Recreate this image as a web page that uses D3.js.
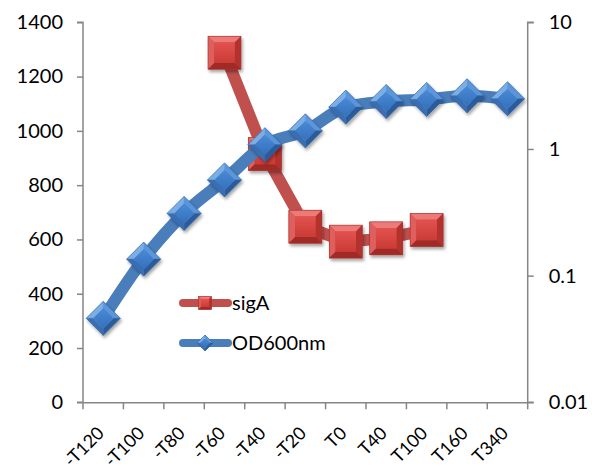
<!DOCTYPE html>
<html>
<head>
<meta charset="utf-8">
<script src="https://cdn.jsdelivr.net/npm/d3@7"></script>
<style>
  html, body { margin: 0; padding: 0; background: #fff; }
  svg { display: block; }
  text { font-family: Lato, "Open Sans", sans-serif; fill: #000; }
</style>
</head>
<body>
<svg id="chart" width="592" height="470"></svg>
<script>
// Sampling points along the time course
const categories = ["-T120", "-T100", "-T80", "-T60", "-T40", "-T20", "T0", "T40", "T100", "T160", "T340"];
// sigA expression (left axis); null where not measured
const sigA = [null, null, null, 1288, 915, 647, 592, 604, 635, null, null];
// Optical density at 600 nm (right axis, log scale)
const od600 = [0.046, 0.135, 0.31, 0.57, 1.08, 1.39, 2.14, 2.37, 2.46, 2.63, 2.49];
// Axis tick labels
const leftTicks = [0, 200, 400, 600, 800, 1000, 1200, 1400];
const rightTicks = [0.01, 0.1, 1, 10];

const svg = d3.select("#chart");
const plot = { left: 83, right: 527.7, top: 22.3, bottom: 402.3 };

const x = d3.scaleBand().domain(categories).range([plot.left, plot.right]);
const yL = d3.scaleLinear().domain([0, 1400]).range([plot.bottom, plot.top]);
const yR = d3.scaleLog().domain([0.01, 10]).range([plot.bottom, plot.top]);
const cx = c => x(c) + x.bandwidth() / 2;

// Soft shadow under the markers
const defs = svg.append("defs");
const f = defs.append("filter").attr("id", "shadow")
  .attr("x", "-50%").attr("y", "-50%").attr("width", "200%").attr("height", "200%");
f.append("feDropShadow").attr("dx", 1.5).attr("dy", 2.5).attr("stdDeviation", 1.6)
  .attr("flood-color", "#000").attr("flood-opacity", 0.35);

function grad(id, top, bottom) {
  const g = defs.append("linearGradient").attr("id", id)
    .attr("x1", 0).attr("y1", 0).attr("x2", 0).attr("y2", 1);
  g.append("stop").attr("offset", "0%").attr("stop-color", top);
  g.append("stop").attr("offset", "100%").attr("stop-color", bottom);
}
grad("redFace", "#E2524E", "#CB3B37");
grad("blueFace", "#4A8AD6", "#3470BC");

// Axes
const axisColor = "#868686";
const axisL = d3.axisLeft(yL).tickValues(leftTicks).tickSize(6).tickPadding(14).tickFormat(d3.format("d"));
const axisR = d3.axisRight(yR).tickValues(rightTicks).tickSize(6).tickPadding(15).tickFormat(d => String(d));
const axisB = d3.axisBottom(x).tickSize(0).tickFormat("");

function styleAxis(g) {
  g.selectAll(".domain").attr("stroke", axisColor).attr("stroke-width", 1.5);
  g.selectAll(".tick line").attr("stroke", axisColor).attr("stroke-width", 1.5);
  g.selectAll(".tick text").attr("font-size", 20).attr("font-family", "Lato, 'Open Sans', sans-serif").attr("fill", "#000");
}

const gL = svg.append("g").attr("transform", `translate(${plot.left},0)`).call(axisL).call(styleAxis);
gL.select(".domain").attr("d", `M-6,${plot.top}H0V${plot.bottom}H-6`);
const gR = svg.append("g").attr("transform", `translate(${plot.right},0)`).call(axisR).call(styleAxis);
gR.select(".domain").attr("d", `M6,${plot.top}H0V${plot.bottom}H6`);

const gB = svg.append("g").attr("transform", `translate(0,${plot.bottom})`).call(axisB).call(styleAxis);
gB.selectAll(".tick").remove();
// Category boundary ticks
const bounds = categories.map(c => x(c)).concat([plot.right]);
gB.selectAll("line.btick").data(bounds).enter().append("line").attr("class", "btick")
  .attr("x1", d => d).attr("x2", d => d).attr("y1", 0).attr("y2", 7)
  .attr("stroke", axisColor).attr("stroke-width", 1.5);
// Rotated category labels
svg.append("g").selectAll("text").data(categories).enter().append("text")
  .attr("transform", d => `translate(${cx(d) + 2},${plot.bottom + 32}) rotate(-45)`)
  .attr("text-anchor", "end").attr("font-size", 18).text(d => d);

// Bevelled square marker
function square(g, s, faces) {
  const i = s * 0.62;
  const pts = {
    top: [[-s, -s], [s, -s], [i, -i], [-i, -i]],
    left: [[-s, -s], [-i, -i], [-i, i], [-s, s]],
    right: [[s, -s], [s, s], [i, i], [i, -i]],
    bottom: [[-s, s], [-i, i], [i, i], [s, s]]
  };
  g.append("rect").attr("x", -s).attr("y", -s).attr("width", 2 * s).attr("height", 2 * s).attr("fill", faces.base);
  for (const k of ["top", "left", "right", "bottom"]) {
    g.append("polygon").attr("points", pts[k].map(p => p.join(",")).join(" ")).attr("fill", faces[k]);
  }
  g.append("rect").attr("x", -i).attr("y", -i).attr("width", 2 * i).attr("height", 2 * i).attr("fill", faces.face);
  g.append("rect").attr("x", -s).attr("y", -s).attr("width", 2 * s).attr("height", 2 * s)
    .attr("fill", "none").attr("stroke", faces.edge).attr("stroke-width", 0.6);
}
// Bevelled diamond marker
function diamond(g, r, faces) {
  const i = r * 0.6;
  const pts = {
    ul: [[-r, 0], [0, -r], [0, -i], [-i, 0]],
    ur: [[0, -r], [r, 0], [i, 0], [0, -i]],
    lr: [[r, 0], [0, r], [0, i], [i, 0]],
    ll: [[0, r], [-r, 0], [-i, 0], [0, i]]
  };
  for (const k of ["ul", "ur", "lr", "ll"]) {
    g.append("polygon").attr("points", pts[k].map(p => p.join(",")).join(" ")).attr("fill", faces[k])
      .attr("stroke", faces[k]).attr("stroke-width", 0.4);
  }
  g.append("polygon").attr("points", [[-i, 0], [0, -i], [i, 0], [0, i]].map(p => p.join(",")).join(" ")).attr("fill", faces.face);
  g.append("polygon").attr("points", [[-r, 0], [0, -r], [r, 0], [0, r]].map(p => p.join(",")).join(" "))
    .attr("fill", "none").attr("stroke", faces.edge).attr("stroke-width", 0.6);
}
const redFaces = { base: "#C9403C", top: "#EC7A76", left: "#DE5F5B", right: "#B3322F", bottom: "#9F2B28", face: "url(#redFace)", edge: "#A52F2C" };
const blueFaces = { ul: "#7BAEE6", ur: "#5B96DA", lr: "#2B5C9C", ll: "#3A6EB0", face: "url(#blueFace)", edge: "#2E62A6" };

// sigA series on the left axis
const redColor = "#C0504D";
const redPts = categories.map((c, k) => ({ c, v: sigA[k] })).filter(d => d.v !== null);
svg.append("path").datum(redPts)
  .attr("d", d3.line().x(d => cx(d.c)).y(d => yL(d.v)))
  .attr("fill", "none").attr("stroke", redColor).attr("stroke-width", 12)
  .attr("stroke-linejoin", "round").attr("stroke-linecap", "round");
svg.append("g").selectAll("g").data(redPts).enter().append("g")
  .attr("transform", d => `translate(${cx(d.c)},${yL(d.v)})`).attr("filter", "url(#shadow)")
  .each(function () { square(d3.select(this), 16.5, redFaces); });

// OD600nm series on the right (log) axis
const blueColor = "#4A7EBB";
const bluePts = categories.map((c, k) => ({ c, v: od600[k] }));
svg.append("path").datum(bluePts)
  .attr("d", d3.line().curve(d3.curveMonotoneX).x(d => cx(d.c)).y(d => yR(d.v)))
  .attr("fill", "none").attr("stroke", blueColor).attr("stroke-width", 12)
  .attr("stroke-linejoin", "round").attr("stroke-linecap", "round");
svg.append("g").selectAll("g").data(bluePts).enter().append("g")
  .attr("transform", d => `translate(${cx(d.c)},${yR(d.v)})`).attr("filter", "url(#shadow)")
  .each(function () { diamond(d3.select(this), 17, blueFaces); });

// Legend
const legend = [
  { name: "sigA", color: redColor, y: 303, mark: g => square(g, 6.5, redFaces) },
  { name: "OD600nm", color: blueColor, y: 343, mark: g => diamond(g, 8, blueFaces) }
];
const lg = svg.append("g");
legend.forEach(d => {
  lg.append("line").attr("x1", 183).attr("x2", 228).attr("y1", d.y).attr("y2", d.y)
    .attr("stroke", d.color).attr("stroke-width", 8).attr("stroke-linecap", "round");
  const m = lg.append("g").attr("transform", `translate(205,${d.y})`);
  d.mark(m);
  lg.append("text").attr("x", 232).attr("y", d.y + 7).attr("font-size", 20).text(d.name);
});
</script>
</body>
</html>
